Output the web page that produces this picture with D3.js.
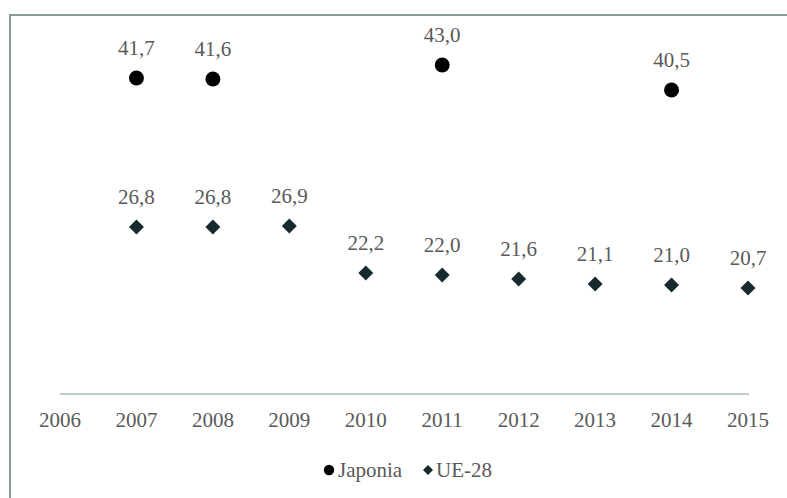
<!DOCTYPE html>
<html>
<head>
<meta charset="utf-8">
<script src="https://cdn.jsdelivr.net/npm/d3@7"></script>
<style>
  body { margin: 0; background: #fff; }
  svg { display: block; }
  text { font-family: "Liberation Serif", "Times New Roman", Times, serif; font-size: 21px; fill: #595959; }
</style>
</head>
<body>
<svg id="chart"></svg>
<script>
const years = ["2006", "2007", "2008", "2009", "2010", "2011", "2012", "2013", "2014", "2015"];
// null = no value for that year
const japonia = [null, 41.7, 41.6, null, null, 43.0, null, null, 40.5, null];
const ue28 = [null, 26.8, 26.8, 26.9, 22.2, 22.0, 21.6, 21.1, 21.0, 20.7];
const seriesNames = ["Japonia", "UE-28"];

const width = 787;
const height = 498;

const svg = d3.select("#chart").attr("width", width).attr("height", height);

// outer frame (only top and left edges visible)
svg.append("rect")
  .attr("x", 10).attr("y", 15)
  .attr("width", 900).attr("height", 600)
  .attr("fill", "none")
  .attr("stroke", "#8c9c9c")
  .attr("stroke-width", 2);

const x = d3.scalePoint().domain(years).range([60, 748]);
const y = d3.scaleLinear().domain([10, 45]).range([395, 45]);

// category axis line
svg.append("line")
  .attr("x1", x(years[0])).attr("x2", x(years[years.length - 1]) + 1)
  .attr("y1", y(10) - 1).attr("y2", y(10) - 1)
  .attr("stroke", "#bfcccc")
  .attr("stroke-width", 2);

// tick labels
svg.append("g")
  .selectAll("text")
  .data(years)
  .join("text")
  .attr("x", (d) => x(d))
  .attr("y", 427)
  .attr("text-anchor", "middle")
  .text((d) => d);

const fmt = (v) => v.toFixed(1).replace(".", ",");

const jpData = years.map((yr, i) => ({ year: yr, value: japonia[i] })).filter((d) => d.value != null);
const ueData = years.map((yr, i) => ({ year: yr, value: ue28[i] })).filter((d) => d.value != null);

const diamond = d3.symbol().type(d3.symbolSquare);

// Japonia points
svg.append("g")
  .selectAll("circle")
  .data(jpData)
  .join("circle")
  .attr("cx", (d) => x(d.year))
  .attr("cy", (d) => y(d.value))
  .attr("r", 7.5)
  .attr("fill", "#000");

// UE-28 points (rotated squares)
svg.append("g")
  .selectAll("path")
  .data(ueData)
  .join("path")
  .attr("d", diamond.size(112)())
  .attr("transform", (d) => `translate(${x(d.year)},${y(d.value)}) rotate(45)`)
  .attr("fill", "#172b2e");

// data labels
svg.append("g")
  .selectAll("text")
  .data(jpData.concat(ueData))
  .join("text")
  .attr("x", (d) => x(d.year))
  .attr("y", (d) => y(d.value) - 23)
  .attr("text-anchor", "middle")
  .text((d) => fmt(d.value));

// legend
const legend = svg.append("g").attr("transform", "translate(0,470)");
legend.append("circle").attr("cx", 329).attr("cy", 0).attr("r", 5.2).attr("fill", "#000");
legend.append("text").attr("x", 338).attr("y", 6.5).text(seriesNames[0]);
legend.append("path")
  .attr("d", diamond.size(50)())
  .attr("transform", "translate(428,0) rotate(45)")
  .attr("fill", "#172b2e");
legend.append("text").attr("x", 436).attr("y", 6.5).text(seriesNames[1]);
</script>
</body>
</html>
